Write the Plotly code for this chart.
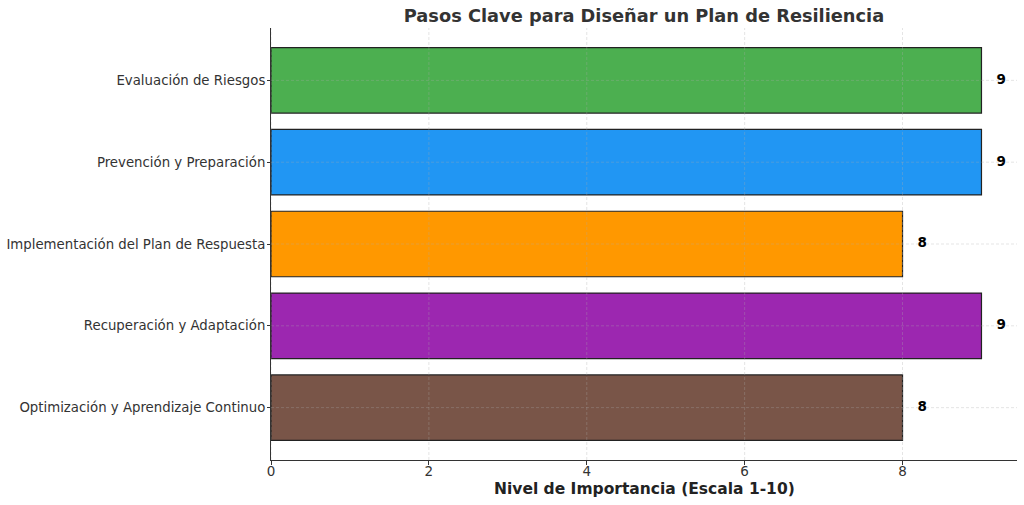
import plotly.graph_objects as go

categories = ["Evaluación de Riesgos", "Prevención y Preparación",
              "Implementación del Plan de Respuesta", "Recuperación y Adaptación",
              "Optimización y Aprendizaje Continuo"]
values = [9, 9, 8, 9, 8]
colors = ["#4CAF50", "#2196F3", "#FF9800", "#9C27B0", "#795548"]
x_ticks = [0, 2, 4, 6, 8]

font_family = "DejaVu Sans"
fig = go.Figure()
fig.add_trace(go.Bar(
    y=categories, x=values, orientation="h",
    marker=dict(color=colors, line=dict(color="#222222", width=1.2)),
    width=0.8, hoverinfo="skip", showlegend=False,
))
fig.add_trace(go.Scatter(
    y=categories, x=[v + 0.19 for v in values], mode="text",
    text=[f"<b>{v}</b>" for v in values], textposition="middle right",
    textfont=dict(family=font_family, size=13.5, color="black"),
    hoverinfo="skip", showlegend=False, cliponaxis=False,
))

# gridlines drawn above bars (as in the reference)
grid_line = dict(color="rgba(170,170,170,0.4)", width=0.8, dash="3px,2px")
shapes = []
for t in x_ticks:
    shapes.append(dict(type="line", xref="x", yref="paper", x0=t, x1=t, y0=0, y1=1,
                       line=grid_line, layer="above"))
for c in categories:
    shapes.append(dict(type="line", xref="paper", yref="y", x0=0, x1=1, y0=c, y1=c,
                       line=grid_line, layer="above"))

plot_h = 505 - 28 - 45
fig.update_layout(
    width=1024, height=505,
    margin=dict(l=271, r=7, t=28, b=45),
    plot_bgcolor="white", paper_bgcolor="white",
    font=dict(family=font_family, size=13.5, color="#333333"),
    title=dict(text="<b>Pasos Clave para Diseñar un Plan de Resiliencia</b>",
               x=(271 + 1017) / 2 / 1024, xanchor="center", y=1 - 16 / 505, yanchor="middle",
               font=dict(size=17.8, color="#333333")),
    shapes=shapes,
    bargap=0.2,
    annotations=[dict(text="<b>Nivel de Importancia (Escala 1-10)</b>", xref="paper", yref="paper",
                      x=0.5, y=-(489 - 460) / plot_h, xanchor="center", yanchor="middle",
                      showarrow=False, font=dict(size=15.5, color="#222222"))],
)
fig.update_xaxes(
    range=[0, 9.45], tickvals=x_ticks, ticks="outside", ticklen=4, tickcolor="#333333",
    showgrid=False, zeroline=False, showline=True, linecolor="#333333", linewidth=1,
    tickfont=dict(size=13.5, color="#333333"), automargin=False, ticklabelstandoff=-5,
)
fig.update_yaxes(
    autorange=False, range=[4.64, -0.64], categoryorder="array", categoryarray=categories,
    ticks="outside", ticklen=3, tickcolor="#333333",
    showgrid=False, zeroline=False, showline=True, linecolor="#333333", linewidth=1,
    tickfont=dict(size=13.3, color="#333333"), automargin=False, ticklabelstandoff=-1,
)
fig.write_html("out.html")
